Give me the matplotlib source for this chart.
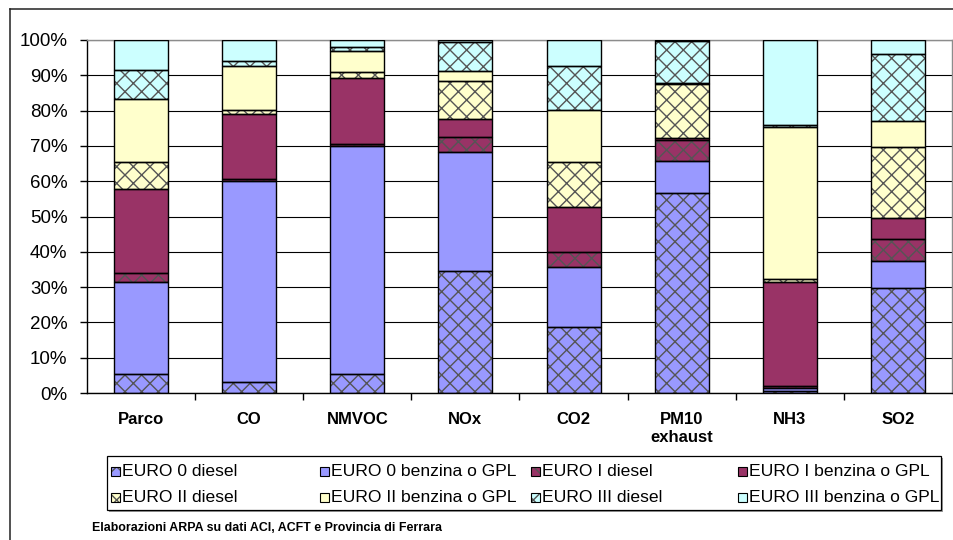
import numpy as np
import matplotlib
matplotlib.use('Agg')
from matplotlib import pyplot as plt
from matplotlib.patches import Rectangle
from matplotlib.lines import Line2D

plt.rcParams['font.family'] = ['Liberation Sans', 'DejaVu Sans']
plt.rcParams['hatch.linewidth'] = 1.0

categories = ['Parco', 'CO', 'NMVOC', 'NOx', 'CO2', 'PM10\nexhaust', 'NH3', 'SO2']

# quota percentuale per classe di veicolo
euro0_diesel = [5.4, 3.1, 5.4, 34.6, 18.6, 56.7, 0.5, 29.7]
euro0_benzina = [26.1, 57.0, 64.5, 33.7, 17.2, 9.0, 0.9, 7.8]
euro1_diesel = [2.4, 0.6, 0.7, 4.1, 4.2, 5.9, 0.5, 6.2]
euro1_benzina = [24.0, 18.4, 18.7, 5.1, 12.7, 0.6, 29.6, 6.0]
euro2_diesel = [7.4, 1.2, 1.6, 11.0, 12.7, 15.2, 0.7, 20.0]
euro2_benzina = [18.0, 12.4, 6.1, 2.6, 14.9, 0.4, 43.1, 7.3]
euro3_diesel = [8.2, 1.3, 1.1, 8.2, 12.2, 11.8, 0.5, 19.0]
euro3_benzina = [8.5, 6.0, 1.9, 0.7, 7.5, 0.4, 24.2, 4.0]

series_names = ['EURO 0 diesel', 'EURO 0 benzina o GPL', 'EURO I diesel', 'EURO I benzina o GPL',
                'EURO II diesel', 'EURO II benzina o GPL', 'EURO III diesel', 'EURO III benzina o GPL']
yticks = [0, 10, 20, 30, 40, 50, 60, 70, 80, 90, 100]

BLUE = '#9999ff'
MAROON = '#993366'
YELLOW = '#ffffcc'
CYAN = '#ccffff'
HATCH_COLOR = '#555555'

W, H = 954, 540


def fx(x):
    return x / W


def fy(y):
    return 1 - y / H


def plot_bars(ax, series, colors, hatches):
    x = np.arange(len(categories))
    bottom = np.zeros(len(categories))
    for vals, color, hatch in zip(series, colors, hatches):
        vals = np.array(vals)
        # riempimento + tratteggio grigio, poi il bordo nero sopra
        ax.bar(x, vals, 0.5, bottom=bottom, color=color, hatch=hatch,
               edgecolor=HATCH_COLOR, linewidth=0, zorder=2)
        ax.bar(x, vals, 0.5, bottom=bottom, fill=False, edgecolor='black',
               linewidth=1.0, zorder=3)
        bottom += vals

    ax.set_xlim(-0.5, len(categories) - 0.5)
    ax.set_ylim(0, 100)
    ax.set_yticks(yticks)
    ax.set_yticklabels([f'{v}%' for v in yticks])
    ax.set_xticks(x)
    ax.set_xticklabels(categories, fontweight='bold', fontsize=12)
    ax.set_xticks(x[:-1] + 0.5, minor=True)
    ax.tick_params(axis='x', which='major', length=0, pad=14)
    ax.tick_params(axis='x', which='minor', length=5, width=1, direction='out')
    ax.tick_params(axis='y', length=5, width=1, labelsize=13.5, pad=9)
    ax.yaxis.grid(True, color='black', linewidth=0.8)
    ax.set_axisbelow(True)
    for side in ['left', 'bottom']:
        ax.spines[side].set_color('black')
        ax.spines[side].set_linewidth(1.0)
    for side in ['top', 'right']:
        ax.spines[side].set_color('#8c8c8c')
        ax.spines[side].set_linewidth(1.0)


def draw_legend(fig, colors, hatches):
    # ombra e riquadro
    fig.add_artist(Rectangle((fx(109), fy(512)), fx(941) - fx(107), fy(456) - fy(510),
                             facecolor='#9a9a9a', edgecolor='none'))
    fig.add_artist(Rectangle((fx(107), fy(510)), fx(941) - fx(107), fy(456) - fy(510),
                             facecolor='white', edgecolor='black', linewidth=0.9))
    text_x = [122, 331, 542, 749]
    rows_y = [471, 497]
    for i, name in enumerate(series_names):
        col = i % 4
        row = i // 4
        tx = text_x[col]
        ty = rows_y[row]
        fig.add_artist(Rectangle((fx(tx - 11), fy(ty + 4.5)), fx(9), 9 / H,
                                 facecolor=colors[i], hatch=hatches[i],
                                 edgecolor=HATCH_COLOR, linewidth=0))
        fig.add_artist(Rectangle((fx(tx - 11), fy(ty + 4.5)), fx(9), 9 / H,
                                 fill=False, edgecolor='black', linewidth=0.8))
        fig.text(fx(tx), fy(ty), name, fontsize=12.6, ha='left', va='center')


def main() -> None:
    series = [euro0_diesel, euro0_benzina, euro1_diesel, euro1_benzina,
              euro2_diesel, euro2_benzina, euro3_diesel, euro3_benzina]
    colors = [BLUE, BLUE, MAROON, MAROON, YELLOW, YELLOW, CYAN, CYAN]
    hatches = ['xx', '', 'xx', '', 'xx', '', 'xx', '']

    fig = plt.figure(figsize=(W / 100, H / 100), dpi=100)
    ax = fig.add_axes([fx(87), fy(393), fx(952) - fx(87), fy(40) - fy(393)])
    plot_bars(ax, series, colors, hatches)
    draw_legend(fig, colors, hatches)

    # cornice del grafico (lati sinistro e superiore)
    fig.add_artist(Line2D([fx(10), fx(10)], [fy(9), 0], color='#222222', linewidth=1.1))
    fig.add_artist(Line2D([fx(10), 1], [fy(9), fy(9)], color='#222222', linewidth=1.1))

    fig.text(fx(92), fy(528), 'Elaborazioni ARPA su dati ACI, ACFT e Provincia di Ferrara',
             fontsize=8.9, fontweight='bold', ha='left', va='center')

    fig.savefig('out.png', dpi=100)
    plt.close(fig)


if __name__ == '__main__':
    main()
